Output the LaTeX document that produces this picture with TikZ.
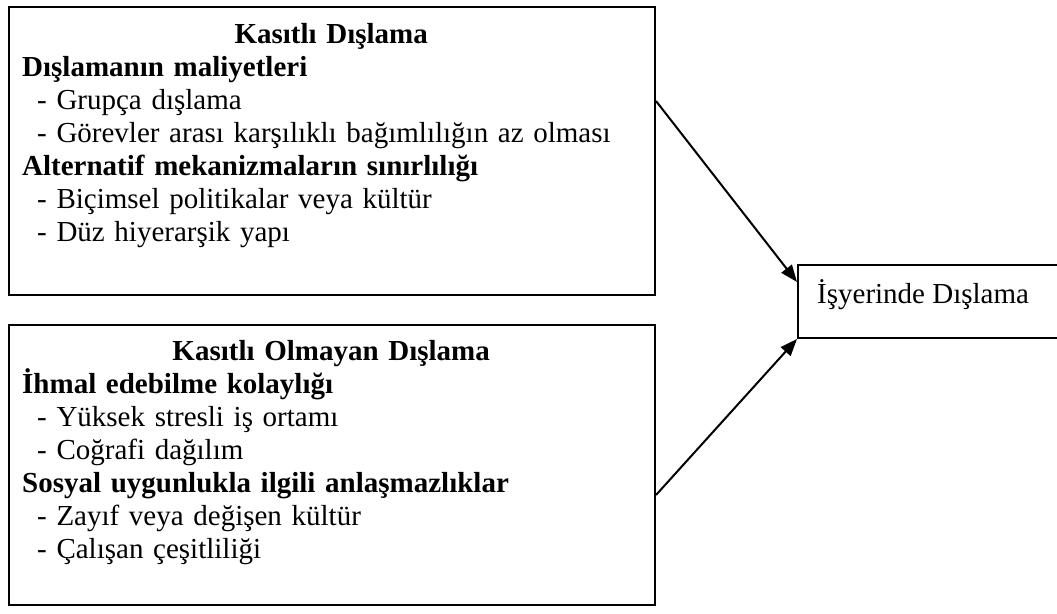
\documentclass[tikz,border=0pt]{standalone}
\usepackage{fontspec}
\setmainfont{Liberation Serif}
\usetikzlibrary{arrows.meta}
\begin{document}
\begin{tikzpicture}[x=1pt,y=-1pt,
  box/.style={draw, line width=2pt, inner sep=0pt, anchor=north west},
  txt/.style={inner sep=0pt, anchor=north west, text width=646pt, align=left,
    font=\fontsize{29pt}{33.1pt}\selectfont},
  rtxt/.style={inner sep=0pt, anchor=base west, font=\fontsize{29pt}{33.1pt}\selectfont},
  link/.style={line width=2pt, -{Triangle[length=17pt,width=13pt]}}]
\useasboundingbox (0,0) rectangle (1057,613);
% top box
\node[box, minimum width=646pt, minimum height=288pt] (k) at (8,6) {};
\node[txt] (kt) at (8,6) {\rule{0pt}{37pt}\makebox[\linewidth][c]{\bfseries Kasıtlı Dışlama}\\
\hspace*{14pt}\textbf{Dışlamanın maliyetleri}\\
\hspace*{29pt}- Grupça dışlama\\
\hspace*{29pt}- Görevler arası karşılıklı bağımlılığın az olması\\
\hspace*{14pt}\textbf{Alternatif mekanizmaların sınırlılığı}\\
\hspace*{29pt}- Biçimsel politikalar veya kültür\\
\hspace*{29pt}- Düz hiyerarşik yapı};
% bottom box
\node[box, minimum width=646pt, minimum height=280pt] (b) at (8,324) {};
\node[txt] (bt) at (8,324) {\rule{0pt}{36pt}\makebox[\linewidth][c]{\bfseries Kasıtlı Olmayan Dışlama}\\
\hspace*{14pt}\textbf{İhmal edebilme kolaylığı}\\
\hspace*{29pt}- Yüksek stresli iş ortamı\\
\hspace*{29pt}- Coğrafi dağılım\\
\hspace*{14pt}\textbf{Sosyal uygunlukla ilgili anlaşmazlıklar}\\
\hspace*{29pt}- Zayıf veya değişen kültür\\
\hspace*{29pt}- Çalışan çeşitliliği};
% result box
\node[box, minimum width=270pt, minimum height=73pt] (r) at (797,264) {};
\node[rtxt] (rt) at (817,303) {İşyerinde Dışlama};
% arrows
\draw[link] ([yshift=-95pt]k.north east) -- ([yshift=-18pt]r.north west);
\draw[link] ([yshift=111pt]b.south east) -- (r.south west);
\end{tikzpicture}
\end{document}
